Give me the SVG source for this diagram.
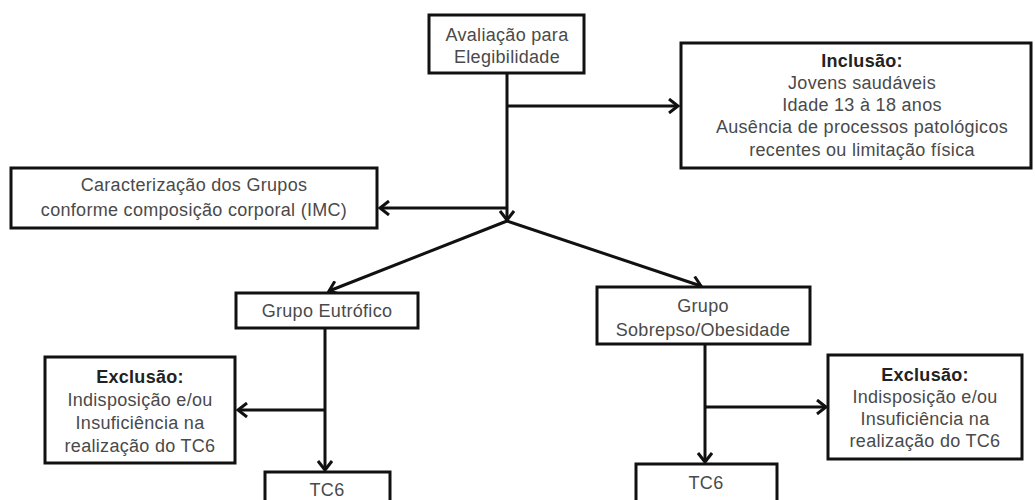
<svg xmlns="http://www.w3.org/2000/svg" width="1035" height="500" viewBox="0 0 1035 500">
<style>
.box{fill:#fff;stroke:#111;stroke-width:3}
.t{font-family:"Liberation Sans",Arial,sans-serif;font-size:18px;fill:#4a4a4a;text-anchor:middle;letter-spacing:0.3px}
.b{font-weight:bold;fill:#222}
.c{fill:none;stroke:#111;stroke-width:3}
</style>
<defs>
<marker id="arr" markerUnits="userSpaceOnUse" markerWidth="14" markerHeight="16" refX="11" refY="8" orient="auto" viewBox="0 0 14 16">
<path d="M2,1 L11,8 L2,15" fill="none" stroke="#111" stroke-width="3"/>
</marker>
</defs>
<rect width="1035" height="500" fill="#fff"/>
<g id="connectors">
<line class="c" x1="507" y1="73" x2="507" y2="220" marker-end="url(#arr)"/>
<line class="c" x1="507" y1="106" x2="678" y2="106" marker-end="url(#arr)"/>
<line class="c" x1="507" y1="208" x2="380" y2="208" marker-end="url(#arr)"/>
<line class="c" x1="507" y1="221" x2="329" y2="291" marker-end="url(#arr)"/>
<line class="c" x1="507" y1="221" x2="701" y2="286" marker-end="url(#arr)"/>
<line class="c" x1="325" y1="328" x2="325" y2="470" marker-end="url(#arr)"/>
<line class="c" x1="325" y1="410" x2="238" y2="410" marker-end="url(#arr)"/>
<line class="c" x1="705" y1="344" x2="705" y2="462" marker-end="url(#arr)"/>
<line class="c" x1="705" y1="407" x2="826" y2="407" marker-end="url(#arr)"/>
</g>
<g id="avaliacao">
<rect class="box" x="429" y="15" width="155" height="58"/>
<text class="t" x="507" y="41">Avaliação para</text>
<text class="t" x="507" y="63">Elegibilidade</text>
</g>
<g id="inclusao">
<rect class="box" x="681" y="43" width="350" height="125"/>
<text class="t b" x="862" y="67">Inclusão:</text>
<text class="t" x="862" y="89">Jovens saudáveis</text>
<text class="t" x="862" y="111">Idade 13 à 18 anos</text>
<text class="t" x="862" y="133">Ausência de processos patológicos</text>
<text class="t" x="862" y="156">recentes ou limitação física</text>
</g>
<g id="caracterizacao">
<rect class="box" x="11" y="168" width="366" height="60"/>
<text class="t" x="194" y="191">Caracterização dos Grupos</text>
<text class="t" x="194" y="216">conforme composição corporal (IMC)</text>
</g>
<g id="eutrofico">
<rect class="box" x="236" y="293" width="182" height="35"/>
<text class="t" x="327" y="317">Grupo Eutrófico</text>
</g>
<g id="sobrepeso">
<rect class="box" x="597" y="287" width="213" height="57"/>
<text class="t" x="703" y="312">Grupo</text>
<text class="t" x="703" y="336">Sobrepso/Obesidade</text>
</g>
<g id="exclusao1">
<rect class="box" x="45" y="357" width="190" height="106"/>
<text class="t b" x="140" y="383">Exclusão:</text>
<text class="t" x="140" y="406">Indisposição e/ou</text>
<text class="t" x="140" y="429">Insuficiência na</text>
<text class="t" x="140" y="452">realização do TC6</text>
</g>
<g id="exclusao2">
<rect class="box" x="828" y="355" width="194" height="104"/>
<text class="t b" x="925" y="381">Exclusão:</text>
<text class="t" x="925" y="403">Indisposição e/ou</text>
<text class="t" x="925" y="425">Insuficiência na</text>
<text class="t" x="925" y="447">realização do TC6</text>
</g>
<g id="tc6a">
<rect class="box" x="265" y="472" width="125" height="40"/>
<text class="t" x="327" y="496">TC6</text>
</g>
<g id="tc6b">
<rect class="box" x="636" y="464" width="141" height="48"/>
<text class="t" x="706" y="489">TC6</text>
</g>
</svg>
